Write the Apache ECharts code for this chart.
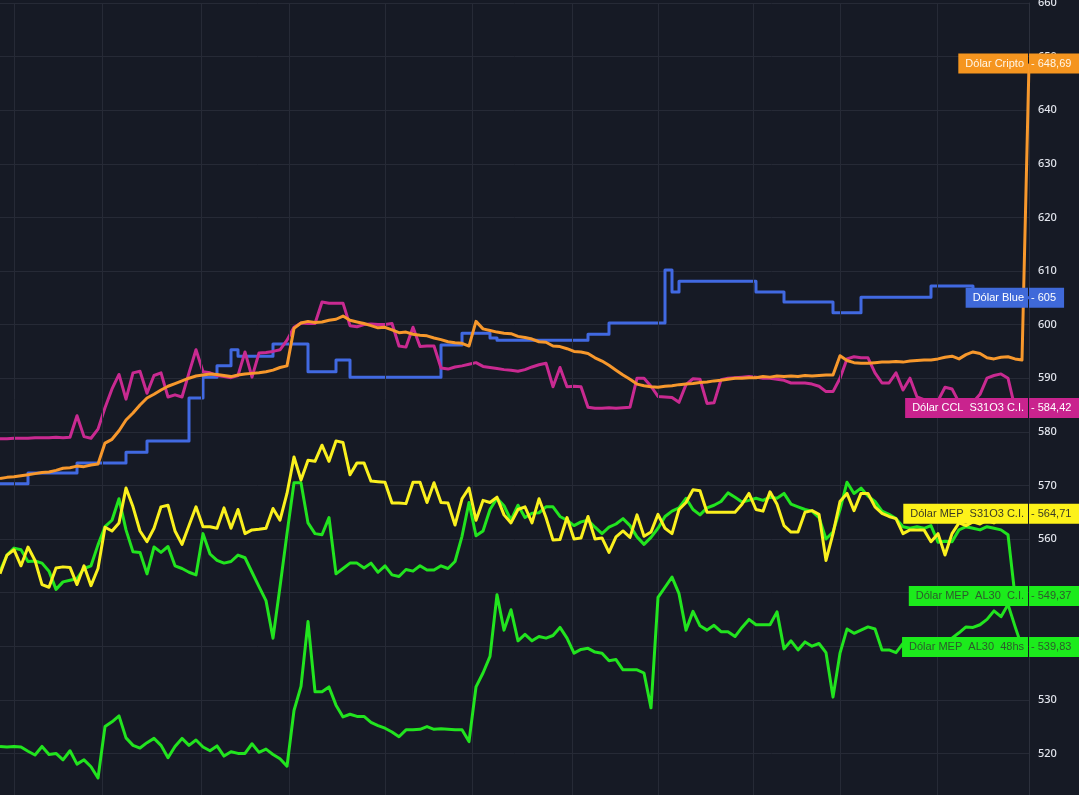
<!DOCTYPE html>
<html><head><meta charset="utf-8">
<script src="https://cdn.jsdelivr.net/npm/echarts@6/dist/echarts.min.js"></script>
<style>html,body{margin:0;padding:0;background:#161a25;overflow:hidden}#c{width:1079px;height:795px}</style>
</head><body><div id="c"></div>
<script>
// time index positions of vertical session grid lines
const gridTimes = [2, 14.57, 28.71, 41.29, 55, 67.43, 81.71, 94, 107.57, 120, 133.86];
const yTicks = [520,530,540,550,560,570,580,590,600,610,620,630,640,650,660];

const dolarBlue = [
570.3,570.3,570.3,570.3,572.3,572.3,572.3,572.3,572.3,572.3,
572.3,574.2,574.2,574.2,574.2,574.2,574.2,574.2,576.2,576.2,
576.2,578.3,578.3,578.3,578.3,578.3,578.3,586.3,586.3,590.2,
590.2,592.3,592.3,595.3,594.1,594.1,594.1,594.1,594.1,596.4,
596.4,596.4,596.4,596.4,591.2,591.2,591.2,591.2,593.4,593.4,
590.2,590.2,590.2,590.2,590.2,590.2,590.2,590.2,590.2,590.2,
590.2,590.2,590.2,596.2,596.2,596.2,598.4,598.4,598.4,598.4,
597.5,597.1,597.1,597.1,597.1,597.1,597.1,597.1,597.1,597.1,
597.1,597.1,597.1,597.1,598.2,598.2,598.2,600.3,600.3,600.3,
600.3,600.3,600.3,600.3,600.3,610.2,606.1,608.1,608.1,608.1,
608.1,608.1,608.1,608.1,608.1,608.1,608.1,608.1,606.1,606.1,
606.1,606.1,604.2,604.2,604.2,604.2,604.2,604.2,604.2,602.2,
602.2,602.2,602.2,605.1,605.1,605.1,605.1,605.1,605.1,605.1,
605.1,605.1,605.1,607.2,607.2,607.2,607.2,607.2,607.2,605,
605,605,605,605,605,605,605,null];

const dolarCripto = [
571.3,571.5,571.6,571.8,572.0,572.2,572.4,572.5,572.8,573.2,
573.3,573.6,573.5,573.8,574.0,577.9,578.6,580.2,582.2,583.5,
585.0,586.3,587.0,587.8,588.5,589.0,589.5,590.0,590.4,590.6,
590.8,590.7,590.5,590.3,590.6,590.8,590.9,591.0,591.2,591.5,
592.0,592.3,599.3,600.3,600.6,600.4,600.5,600.8,601.0,601.6,
600.8,600.5,600.2,599.8,599.4,599.5,599.0,598.5,598.6,598.2,
598.0,597.9,597.5,597.2,596.8,596.6,596.5,596.0,600.6,599.2,
598.9,598.6,598.4,598.3,597.8,597.6,597.3,596.8,596.7,596.0,
595.9,595.5,595.0,594.9,594.6,593.8,593.2,592.4,591.5,590.6,
589.8,588.9,588.6,588.4,588.3,588.5,588.6,588.8,588.9,589.0,
589.2,589.3,589.5,589.6,589.8,590.0,590.0,590.1,590.1,590.3,
590.2,590.4,590.3,590.4,590.3,590.5,590.4,590.5,590.6,590.6,
594.2,593.3,592.9,592.8,592.8,592.9,593.0,593.0,593.1,593.0,
593.2,593.3,593.4,593.4,593.6,593.9,594.1,593.6,594.4,594.9,
594.6,593.8,593.6,593.9,594.0,593.6,593.4,648.69];

const dolarCCL = [
578.7,578.7,578.8,578.8,578.8,578.9,578.9,578.9,579.0,578.9,
579.0,583.0,579.1,578.8,580.5,584.5,588.0,590.7,586.1,591.0,
591.3,587.2,590.5,591.0,586.5,586.9,586.5,591.0,595.3,591.2,
591.0,590.5,590.3,590.1,590.5,594.9,590.2,594.7,594.8,595.0,
595.3,597.1,599.5,600.3,600.2,600.2,604.2,604.0,604.0,604.0,
599.8,599.6,600.0,600.1,600.0,600.0,600.2,596.0,595.8,599.5,
595.9,596.0,596.0,591.9,591.7,592.1,592.3,592.6,592.9,592.2,
592.0,591.8,591.6,591.5,591.3,591.6,592.1,592.5,592.8,588.4,
592.0,588.4,588.5,588.4,584.6,584.4,584.4,584.5,584.4,584.5,
584.6,590.0,590.0,588.5,586.6,586.5,586.4,585.5,588.8,589.9,
589.8,585.3,585.4,589.7,590.0,590.1,590.2,590.3,590.2,590.0,
590.0,589.8,589.6,589.1,589.1,589.1,588.9,588.5,587.5,587.5,
590.0,593.6,594.0,593.8,593.8,591.0,589.1,589.1,591.0,587.8,
590.0,586.5,586.0,585.8,585.8,588.3,588.0,585.5,585.5,585.5,
587.0,590.0,590.5,590.8,590.0,584.42,null,null];

const mepS31O3 = [
553.5,557.0,558.0,555.0,558.5,556.0,551.5,551.0,554.6,554.8,
554.7,551.5,555.0,551.3,554.5,562.2,561.5,563.0,569.5,566.0,
561.5,559.5,562.0,566.0,566.3,561.5,559.0,562.5,566.0,562.3,
562.3,562.0,565.8,562.0,565.5,561.0,561.7,561.8,562.0,565.7,
563.5,568.5,575.3,571.0,574.7,574.5,577.5,574.5,578.3,578.0,
572.0,574.2,574.2,570.8,570.7,570.6,566.7,566.7,566.6,570.6,
570.6,566.8,570.5,566.8,566.7,562.6,567.5,569.5,563.5,567.2,
566.8,567.8,564.5,563.0,565.5,566.0,563.0,567.5,564.0,559.8,
559.9,564.0,560.0,560.2,564.2,560.0,560.2,557.5,560.4,561.5,
560.3,564.5,560.5,561.3,564.6,562.0,561.0,565.5,566.8,569.2,
569.0,565.0,565.0,565.0,565.0,565.0,566.5,568.5,565.5,565.2,
568.8,566.5,562.5,561.3,561.3,565.0,565.3,564.6,556.0,561.0,
567.0,568.5,565.3,568.5,568.5,566.0,564.8,564.2,563.8,561.0,
561.7,561.7,561.7,559.5,561.0,557.0,561.0,563.0,562.5,563.2,
562.8,563.5,563.0,564.0,564.71,null,null,null];

const mepAL30CI = [
554.0,557.0,558.3,558.0,555.8,555.9,555.5,554.0,550.6,552.0,
552.3,552.6,554.5,555.0,558.9,562.3,563.5,567.5,561.7,557.6,
557.5,553.5,558.5,557.5,558.6,555.0,554.5,553.8,553.3,561.0,
557.2,556.0,555.5,555.8,557.0,556.5,553.8,551.1,548.5,541.5,
551.1,561.0,570.5,570.5,563.0,561.0,560.8,564.0,553.5,554.5,
555.5,555.5,554.6,555.5,553.8,555.0,553.3,553.0,554.3,554.0,
555.0,554.2,554.2,555.0,554.5,555.8,560.5,566.8,560.6,561.5,
565.5,567.6,566.2,563.5,566.3,564.0,564.8,564.9,566.0,566.0,
564.2,563.5,562.5,563.2,563.5,562.2,561.0,562.2,562.8,563.8,
562.5,560.4,559.0,560.3,562.0,564.2,565.2,565.8,567.6,565.5,
564.5,565.8,566.3,567.0,568.6,567.8,566.9,567.2,567.6,567.2,
567.8,567.6,568.5,566.5,566.0,565.5,565.2,564.0,560.0,561.3,
565.5,570.6,568.5,569.5,568.0,567.0,565.2,564.6,563.8,562.3,
562.0,562.3,562.0,562.5,559.4,559.6,559.5,561.7,562.3,562.0,
561.7,562.3,562.0,561.7,560.8,549.37,null,null];

const mepAL30_48hs = [
521.3,521.2,521.3,521.2,520.4,519.7,521.3,519.8,520.0,518.8,
520.5,518.0,518.8,517.5,515.4,525.0,525.9,527.0,522.9,521.5,
521.0,522.0,522.8,521.5,519.2,521.3,522.8,521.5,522.5,521.2,
520.5,521.4,519.5,520.3,520.0,520.0,521.8,520.2,520.8,519.8,
519.0,517.6,528.0,532.5,544.6,531.5,531.5,532.4,529.0,526.8,
527.3,526.9,526.9,525.8,525.2,524.7,524.0,523.1,524.4,524.4,
524.5,525.0,524.5,524.6,524.5,524.4,524.4,522.2,532.4,535.0,
538.1,549.6,543.0,546.8,541.0,542.2,541.0,541.8,541.5,542.0,
543.5,541.5,538.7,539.4,539.6,538.9,538.7,537.3,537.5,535.6,
535.6,535.6,535.0,528.5,549.1,551.0,552.9,549.8,543.0,546.5,
543.8,543.0,543.9,542.7,542.7,541.8,543.5,545.0,544.0,544.0,
544.0,546.4,539.5,541.0,539.3,540.8,540.0,540.5,538.8,530.5,
538.7,543.2,542.4,543.0,543.6,543.2,539.3,539.3,538.8,540.5,
540.5,540.4,540.6,540.8,540.5,541.0,541.5,542.5,543.6,543.5,
544.0,545.0,546.6,545.5,547.8,543.7,539.83,null];

const tags = [
  {name:'Dólar Cripto', value:648.69, text:'648,69', bg:'#F5951F', fg:'#FFF6E8'},
  {name:'Dólar Blue', value:605, text:'605', bg:'#3F69D9', fg:'#FFFFFF'},
  {name:'Dólar CCL  S31O3 C.I.', value:584.42, text:'584,42', bg:'#C9238E', fg:'#FFFFFF'},
  {name:'Dólar MEP  S31O3 C.I.', value:564.71, text:'564,71', bg:'#FDF21A', fg:'#3A3A24'},
  {name:'Dólar MEP  AL30  C.I.', value:549.37, text:'549,37', bg:'#1CEB1C', fg:'#2C5A2C'},
  {name:'Dólar MEP  AL30  48hs', value:539.83, text:'539,83', bg:'#1CEB1C', fg:'#2C5A2C'}
];

const FONT = '"Noto Sans", "Open Sans", sans-serif';
const TAGFONT = '"Liberation Sans", Arial, sans-serif';
const toPairs = a => a.map((v, i) => [i, v]);
const mk = (name, data, color, extra) => Object.assign({
  name, type:'line', data: toPairs(data), symbol:'none', showSymbol:false,
  lineStyle:{color, width:3, join:'round'}, itemStyle:{color}, connectNulls:false, silent:true
}, extra || {});

const chart = echarts.init(document.getElementById('c'), null, {renderer:'canvas'});
const option = {
  backgroundColor:'#161a25',
  animation:false,
  grid:{left:0, right:50, top:3, height:804, containLabel:false, outerBoundsMode:'none'},
  xAxis:{type:'value', min:0, max:dolarBlue.length - 1, show:false},
  yAxis:{type:'value', position:'right', min:510, max:660, interval:10,
    axisLine:{show:true, onZero:false, lineStyle:{color:'#2c303c', width:1}},
    axisTick:{show:false},
    axisLabel:{color:'#e1e4ec', fontSize:11, fontFamily:FONT, fontWeight:500, margin:9,
      formatter: v => (yTicks.indexOf(v) >= 0 ? String(v) : '')},
    splitLine:{show:true, lineStyle:{color:'#262a36', width:1}}
  },
  series:[
    {type:'line', data:[], silent:true, z:1,
      markLine:{silent:true, symbol:['none','none'], label:{show:false},
        lineStyle:{color:'#262a36', width:1, type:'solid'},
        data: gridTimes.map(t => ({xAxis:t}))}},
    mk('Dólar Blue', dolarBlue, '#4169E1', {step:'end', z:3}),
    mk('Dólar CCL', dolarCCL, '#C92A91', {z:4}),
    mk('Dólar Cripto', dolarCripto, '#F7982C', {z:5}),
    mk('Dólar MEP AL30 48hs', mepAL30_48hs, '#22E41F', {z:6}),
    mk('Dólar MEP AL30 C.I.', mepAL30CI, '#22E41F', {z:6}),
    mk('Dólar MEP S31O3 C.I.', mepS31O3, '#FAF01E', {z:7})
  ]
};
chart.setOption(option);

const elems = [];
const axisX = chart.convertToPixel({xAxisIndex:0}, dolarBlue.length - 1);
tags.forEach(t => {
  const py = chart.convertToPixel({yAxisIndex:0}, t.value);
  elems.push({type:'text', z:100, x: axisX - 1, y: py,
    style:{text:t.name, font:'11px ' + TAGFONT, fill:t.fg, align:'right', verticalAlign:'middle',
      backgroundColor:t.bg, padding:[3,4,3,7], lineHeight:14}});
  elems.push({type:'text', z:100, x: axisX, y: py,
    style:{text:'- ' + t.text, font:'11px ' + TAGFONT, fill:t.fg, align:'left', verticalAlign:'middle',
      backgroundColor:t.bg, padding:[3,8,3,2], lineHeight:14}});
});
chart.setOption({graphic:{elements:elems}});
</script></body></html>
